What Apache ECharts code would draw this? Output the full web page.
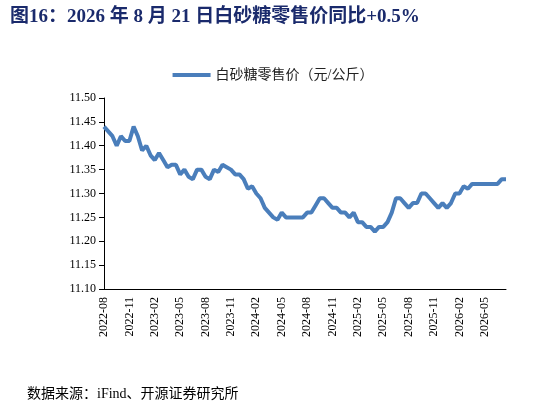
<!DOCTYPE html><html><head><meta charset="utf-8"><script src="https://cdn.jsdelivr.net/npm/echarts@6/dist/echarts.min.js"></script>
<style>body{margin:0;background:#fff}#c{width:546px;height:408px}</style></head><body><div id="c"></div><script>
const seriesName='白砂糖零售价（元/公斤）';
const startYear=2022,startMonth=8; // semi-monthly points
const values=[11.44,11.43,11.42,11.40,11.42,11.41,11.41,11.44,11.42,11.39,11.40,11.38,11.37,11.385,11.37,11.355,11.36,11.36,11.34,11.35,11.335,11.33,11.35,11.35,11.335,11.33,11.35,11.345,11.36,11.355,11.35,11.34,11.34,11.33,11.31,11.315,11.30,11.29,11.27,11.26,11.25,11.245,11.26,11.25,11.25,11.25,11.25,11.25,11.26,11.26,11.275,11.29,11.29,11.28,11.27,11.27,11.26,11.26,11.25,11.26,11.24,11.24,11.23,11.23,11.22,11.23,11.23,11.24,11.26,11.29,11.29,11.28,11.27,11.28,11.28,11.30,11.30,11.29,11.28,11.27,11.28,11.27,11.28,11.30,11.30,11.315,11.31,11.32,11.32,11.32,11.32,11.32,11.32,11.32,11.33,11.33];
const categories=values.map((v,i)=>{const m=startMonth-1+Math.floor(i/2);const y=startYear+Math.floor(m/12);return y+'-'+String(m%12+1).padStart(2,'0')+(i%2?'-16':'-01');});
const serif='"Liberation Serif","Noto Sans CJK SC",serif';
const c=echarts.init(document.getElementById('c'));
c.setOption({animation:false,
title:[{text:'图16：2026 年 8 月 21 日白砂糖零售价同比+0.5%',left:5,top:3,textStyle:{fontFamily:serif,fontSize:19,fontWeight:'bold',color:'#1a2a6c'}},
{text:'数据来源：iFind、开源证券研究所',left:22,top:382,textStyle:{fontFamily:serif,fontSize:14,fontWeight:'normal',color:'#000'}}],
legend:{top:63,left:'center',itemWidth:38,itemHeight:4,icon:'rect',textStyle:{fontFamily:serif,fontSize:14,color:'#222'},data:[seriesName]},
grid:{left:104,right:40,top:98,bottom:119},
xAxis:{type:'category',data:categories,boundaryGap:false,axisLine:{lineStyle:{color:'#000'}},axisTick:{show:false},
 axisLabel:{rotate:90,interval:5,color:'#000',fontFamily:serif,fontSize:12,formatter:v=>v.slice(0,7)}},
yAxis:{type:'value',min:11.10,max:11.50,interval:0.05,axisLine:{show:true,lineStyle:{color:'#000'}},axisTick:{show:true,inside:false},splitLine:{show:false},
 axisLabel:{color:'#000',fontFamily:serif,fontSize:12,formatter:v=>v.toFixed(2)}},
series:[{name:seriesName,type:'line',data:values,showSymbol:false,lineStyle:{width:4,color:'#4a7ebb'},itemStyle:{color:'#4a7ebb'}}]});
</script></body></html>
